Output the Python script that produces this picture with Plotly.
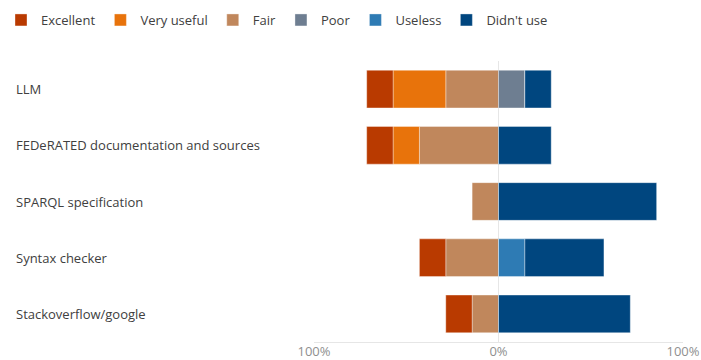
import plotly.graph_objects as go

categories = ["LLM", "FEDeRATED documentation and sources", "SPARQL specification",
              "Syntax checker", "Stackoverflow/google"]

# percentages of respondents (left side shown as negatives)
excellent   = [14.29, 14.29, 0.0, 14.29, 14.29]
very_useful = [28.57, 14.29, 0.0, 0.0, 0.0]
fair        = [28.57, 42.86, 14.29, 28.57, 14.29]
poor        = [14.29, 0.0, 0.0, 0.0, 0.0]
useless     = [0.0, 0.0, 0.0, 14.29, 0.0]
didnt_use   = [14.29, 28.57, 85.71, 42.86, 71.43]

tick_vals = [-100, 0, 100]
tick_text = ["100%", "0%", "100%"]

colors = {
    "Excellent": "#B93A00",
    "Very useful": "#E8730B",
    "Fair": "#C0875C",
    "Poor": "#6E7E91",
    "Useless": "#2E7BB4",
    "Didn't use": "#00467F",
}

fig = go.Figure()
# left side (negative), stacked outward from 0
for name, vals, rank in [("Fair", fair, 3), ("Very useful", very_useful, 2), ("Excellent", excellent, 1)]:
    fig.add_trace(go.Bar(y=categories, x=[-v for v in vals], name=name, orientation="h",
                         marker=dict(color=colors[name], line=dict(width=0.6, color="rgba(255,255,255,0.6)")),
                         legendrank=rank))
for name, vals, rank in [("Poor", poor, 4), ("Useless", useless, 5), ("Didn't use", didnt_use, 6)]:
    fig.add_trace(go.Bar(y=categories, x=vals, name=name, orientation="h",
                         marker=dict(color=colors[name], line=dict(width=0.6, color="rgba(255,255,255,0.6)")),
                         legendrank=rank))

font_family = "Open Sans, Noto Sans, sans-serif"

L, R, T, B = 314, 18, 61, 18
pw = 701 - L - R
ph = 360 - T - B

for c in categories:
    fig.add_annotation(text=c, x=-(L - 14) / pw, xref="paper", y=c, yref="y", xanchor="left",
                       showarrow=False, font=dict(family=font_family, size=13, color="#404040"))

fig.update_layout(
    width=701, height=360,
    barmode="relative", bargap=0.33,
    margin=dict(l=L, r=R, t=T, b=B, autoexpand=False),
    paper_bgcolor="white", plot_bgcolor="white",
    font=dict(family=font_family, size=13, color="#404040"),
    showlegend=True,
    legend=dict(orientation="h", xref="paper", yref="paper", x=-(L - 1) / pw, y=1 + (T - 5) / ph,
                xanchor="left", yanchor="top", font=dict(size=13, color="#404040"),
                traceorder="normal", bgcolor="rgba(0,0,0,0)", itemwidth=30),
    xaxis=dict(range=[-100, 100], tickvals=tick_vals, ticktext=tick_text, automargin=False,
               showgrid=True, gridcolor="#E6E6E6", gridwidth=1, zeroline=True,
               zerolinecolor="#E6E6E6", zerolinewidth=1, showline=True, linecolor="#E6E6E6",
               tickfont=dict(size=13, color="#8F8F8F"), ticks="", ticklabelstandoff=-3,
               fixedrange=True),
    yaxis=dict(categoryorder="array", categoryarray=categories, autorange="reversed",
               automargin=False,
               showticklabels=False, showgrid=False, zeroline=False, ticks=""),
)

fig.write_html("out.html", post_script="document.body.style.margin='0';",
               config={"displayModeBar": False})
